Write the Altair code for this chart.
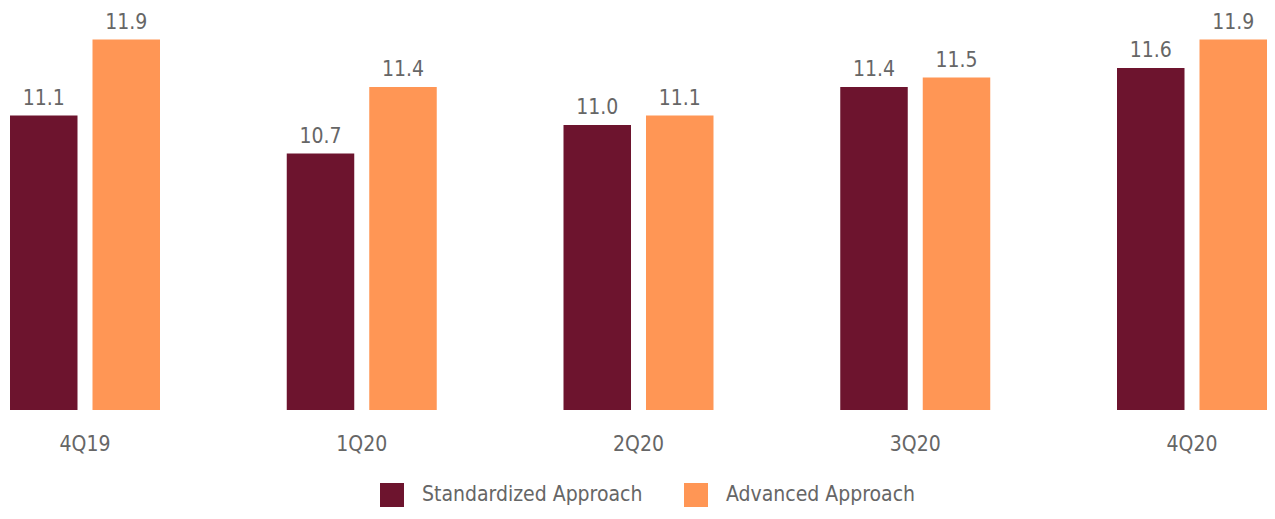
import altair as alt
import pandas as pd

quarters = ["4Q19", "1Q20", "2Q20", "3Q20", "4Q20"]
standardized = [11.1, 10.7, 11.0, 11.4, 11.6]
advanced = [11.9, 11.4, 11.1, 11.5, 11.9]
series = ["Standardized Approach", "Advanced Approach"]
colors = ["#6D142E", "#FF9655"]

rows = []
for q, s, a in zip(quarters, standardized, advanced):
    rows.append({"quarter": q, "series": series[0], "value": s})
    rows.append({"quarter": q, "series": series[1], "value": a})
df = pd.DataFrame(rows)

FONT = "DejaVu Sans Condensed, Open Sans, sans-serif"
TXT = "#666666"

x = alt.X("quarter:N", sort=quarters,
          scale=alt.Scale(paddingInner=0.458, paddingOuter=0, round=False),
          axis=alt.Axis(title=None, labelAngle=0, domain=False, ticks=False,
                        labelFont=FONT, labelFontSize=21, labelColor=TXT,
                        labelPadding=23))
xo = alt.XOffset("series:N", sort=series,
                 scale=alt.Scale(paddingInner=0.1818, paddingOuter=0, round=False))
y = alt.Y("value:Q", scale=alt.Scale(domain=[8, 12], zero=False, clamp=True),
          axis=None)

bars = alt.Chart(df).mark_bar().encode(
    x=x, xOffset=xo, y=y,
    color=alt.Color("series:N", sort=series,
                    scale=alt.Scale(domain=series, range=colors),
                    legend=alt.Legend(title=None, orient="none", direction="horizontal",
                                      legendX=370, legendY=453,
                                      symbolType="square", symbolSize=576,
                                      symbolStrokeWidth=0, symbolOpacity=1,
                                      labelFont=FONT, labelFontSize=21,
                                      labelColor=TXT, labelOffset=18,
                                      columnPadding=41, labelLimit=400)),
)

labels = alt.Chart(df).mark_text(baseline="bottom", dy=-7, font=FONT,
                                 fontSize=21, color=TXT).encode(
    x=x, xOffset=xo, y=y,
    text=alt.Text("value:Q", format=".1f"),
)

chart = (bars + labels).properties(
    width=1257, height=380,
    padding={"left": 2, "top": 22, "right": 0, "bottom": 97},
    autosize=alt.AutoSizeParams(type="none"),
).configure_view(stroke=None)

chart.save("out.html", embed_options={"renderer": "svg", "actions": False})
